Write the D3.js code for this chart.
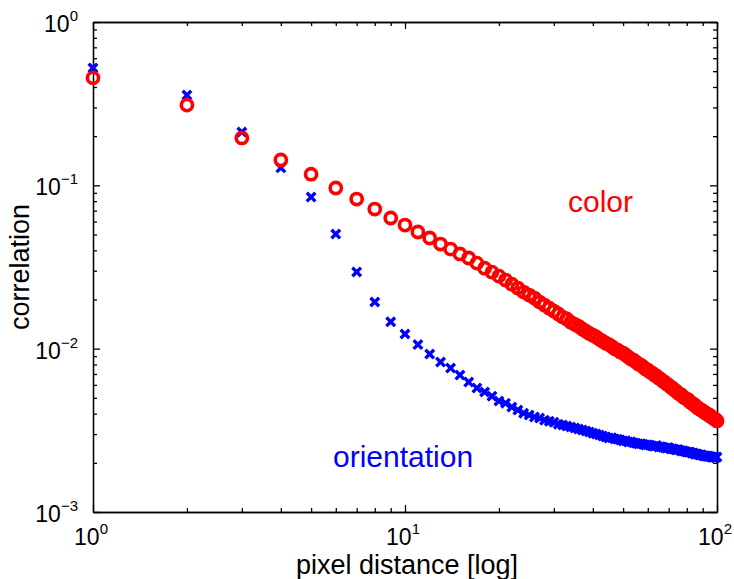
<!DOCTYPE html>
<meta charset="utf-8">
<style>

body {
  margin: 0;
  background: #fff;
  font-family: "Liberation Sans", Arial, Helvetica, sans-serif;
}

.axis path,
.axis line {
  fill: none;
  stroke: #000;
  stroke-width: 1.3;
}

.tick-label {
  font-size: 23px;
  fill: #000;
}

.label {
  font-size: 27px;
  fill: #000;
}

.note {
  font-size: 30px;
}

</style>
<body>
<script src="https://d3js.org/d3.v7.min.js"></script>
<script>

// pixel distance 1..100
var distance = d3.range(1, 101);

var colorCorr = [
  0.455, 0.310, 0.195, 0.143, 0.117, 0.0963, 0.0824, 0.0716, 0.0631, 0.0571,
  0.0518, 0.0476, 0.0437, 0.0407, 0.0380, 0.0359, 0.0334, 0.0311, 0.0294, 0.0278,
  0.0263, 0.0248, 0.0235, 0.0222, 0.0213, 0.0204, 0.0193, 0.0185, 0.0177, 0.0170,
  0.0163, 0.0156, 0.0152, 0.0145, 0.0141, 0.0137, 0.0132, 0.0128, 0.0124, 0.0121,
  0.0118, 0.0114, 0.0111, 0.0108, 0.0106, 0.0103, 0.0100, 0.00980, 0.00953, 0.00940,
  0.00914, 0.00888, 0.00864, 0.00852, 0.00828, 0.00805, 0.00794, 0.00772, 0.00750, 0.00740,
  0.00719, 0.00709, 0.00689, 0.00680, 0.00661, 0.00651, 0.00633, 0.00624, 0.00607, 0.00598,
  0.00582, 0.00574, 0.00558, 0.00550, 0.00535, 0.00527, 0.00520, 0.00505, 0.00498, 0.00491,
  0.00485, 0.00471, 0.00464, 0.00458, 0.00451, 0.00439, 0.00433, 0.00427, 0.00421, 0.00415,
  0.00409, 0.00403, 0.00398, 0.00392, 0.00390, 0.00381, 0.00376, 0.00371, 0.00369, 0.00361
];

var orientCorr = [
  0.523, 0.357, 0.212, 0.128, 0.0848, 0.0503, 0.0295, 0.0193, 0.0146, 0.0123,
  0.0106, 0.00927, 0.00828, 0.00761, 0.00689, 0.00624, 0.00574, 0.00543, 0.00512, 0.00478,
  0.00464, 0.00439, 0.00421, 0.00403, 0.00392, 0.00381, 0.00376, 0.00365, 0.00360, 0.00355,
  0.00345, 0.00341, 0.00336, 0.00331, 0.00327, 0.00322, 0.00318, 0.00313, 0.00309, 0.00304,
  0.00300, 0.00296, 0.00292, 0.00288, 0.00284, 0.00285, 0.00280, 0.00279, 0.00276, 0.00272,
  0.00273, 0.00268, 0.00269, 0.00265, 0.00264, 0.00261, 0.00262, 0.00260, 0.00257, 0.00258,
  0.00256, 0.00254, 0.00253, 0.00255, 0.00250, 0.00251, 0.00249, 0.00247, 0.00246, 0.00248,
  0.00243, 0.00244, 0.00242, 0.00240, 0.00241, 0.00239, 0.00236, 0.00237, 0.00235, 0.00233,
  0.00232, 0.00233, 0.00229, 0.00230, 0.00226, 0.00227, 0.00225, 0.00223, 0.00224, 0.00222,
  0.00220, 0.00221, 0.00219, 0.00220, 0.00218, 0.00217, 0.00216, 0.00218, 0.00215, 0.00217
];

var xMajor = [1, 10, 100],
    xExp = ["0", "1", "2"];
var yMajor = [0.001, 0.01, 0.1, 1],
    yExp = ["\u22123", "\u22122", "\u22121", "0"];

var annotations = [
  {text: "color", x: 33.3, y: 0.0687, color: "#ff0000"},
  {text: "orientation", x: 5.88, y: 0.00188, color: "#0000ff"}
];

var margin = {top: 22, right: 17, bottom: 67, left: 93},
    width = 734 - margin.left - margin.right,
    height = 579 - margin.top - margin.bottom;

var x = d3.scaleLog().domain([1, 100]).range([0, width]);
var y = d3.scaleLog().domain([0.001, 1]).range([height, 0]);

function minors(lo, hi) {
  var out = [];
  for (var p = lo; p < hi; p *= 10)
    for (var k = 2; k < 10; k++) out.push(p * k);
  return out;
}

var svg = d3.select("body").append("svg")
    .attr("width", 734)
    .attr("height", 579)
  .append("g")
    .attr("transform", "translate(" + margin.left + "," + margin.top + ")");

// box + inward ticks on all four sides
function addAxis(gen, scale, vals, size, transform) {
  svg.append("g")
      .attr("class", "axis")
      .attr("transform", transform)
      .call(gen(scale).tickValues(vals).tickSizeInner(size).tickSizeOuter(0).tickFormat(""));
}
addAxis(d3.axisBottom, x, xMajor, -7, "translate(0," + height + ")");
addAxis(d3.axisBottom, x, minors(1, 100), -4, "translate(0," + height + ")");
addAxis(d3.axisTop, x, xMajor, -7, "translate(0,0)");
addAxis(d3.axisTop, x, minors(1, 100), -4, "translate(0,0)");
addAxis(d3.axisLeft, y, yMajor, -7, "translate(0,0)");
addAxis(d3.axisLeft, y, minors(0.001, 1), -4, "translate(0,0)");
addAxis(d3.axisRight, y, yMajor, -7, "translate(" + width + ",0)");
addAxis(d3.axisRight, y, minors(0.001, 1), -4, "translate(" + width + ",0)");

// tick labels 10^n
var xl = svg.selectAll(".xlab")
    .data(xMajor)
  .enter().append("text")
    .attr("class", "tick-label")
    .attr("x", function(d) { return x(d) - 2; })
    .attr("y", height + 33)
    .attr("text-anchor", "middle");
xl.append("tspan").text("10");
xl.append("tspan")
    .attr("dy", -11)
    .style("font-size", "15px")
    .text(function(d, i) { return xExp[i]; });

var yl = svg.selectAll(".ylab")
    .data(yMajor)
  .enter().append("text")
    .attr("class", "tick-label")
    .attr("x", -15)
    .attr("y", function(d) { return y(d) + 10; })
    .attr("text-anchor", "end");
yl.append("tspan").text("10");
yl.append("tspan")
    .attr("dy", -11)
    .style("font-size", "15px")
    .text(function(d, i) { return yExp[i]; });

svg.append("text")
    .attr("class", "label")
    .attr("x", width / 2 + 2)
    .attr("y", height + 62)
    .attr("text-anchor", "middle")
    .text("pixel distance [log]");

svg.append("text")
    .attr("class", "label")
    .attr("transform", "rotate(-90)")
    .attr("x", -height / 2)
    .attr("y", -56)
    .attr("text-anchor", "middle")
    .attr("dy", "-0.3em")
    .text("correlation");

// orientation: crosses
svg.selectAll(".cross")
    .data(distance)
  .enter().append("path")
    .attr("class", "cross")
    .attr("transform", function(d, i) { return "translate(" + x(d) + "," + y(orientCorr[i]) + ")"; })
    .attr("d", "M-4.3,-4.3L4.3,4.3M-4.3,4.3L4.3,-4.3")
    .attr("stroke", "#0000ff")
    .attr("stroke-width", 3.4)
    .attr("fill", "none");

// color: circles
svg.selectAll(".ring")
    .data(distance)
  .enter().append("circle")
    .attr("class", "ring")
    .attr("cx", function(d) { return x(d); })
    .attr("cy", function(d, i) { return y(colorCorr[i]); })
    .attr("r", 5.6)
    .attr("fill", "none")
    .attr("stroke", "#ff0000")
    .attr("stroke-width", 3.6);

svg.selectAll(".note")
    .data(annotations)
  .enter().append("text")
    .attr("class", "label note")
    .attr("x", function(d) { return x(d.x); })
    .attr("y", function(d) { return y(d.y); })
    .style("fill", function(d) { return d.color; })
    .text(function(d) { return d.text; });

</script>
</body>
